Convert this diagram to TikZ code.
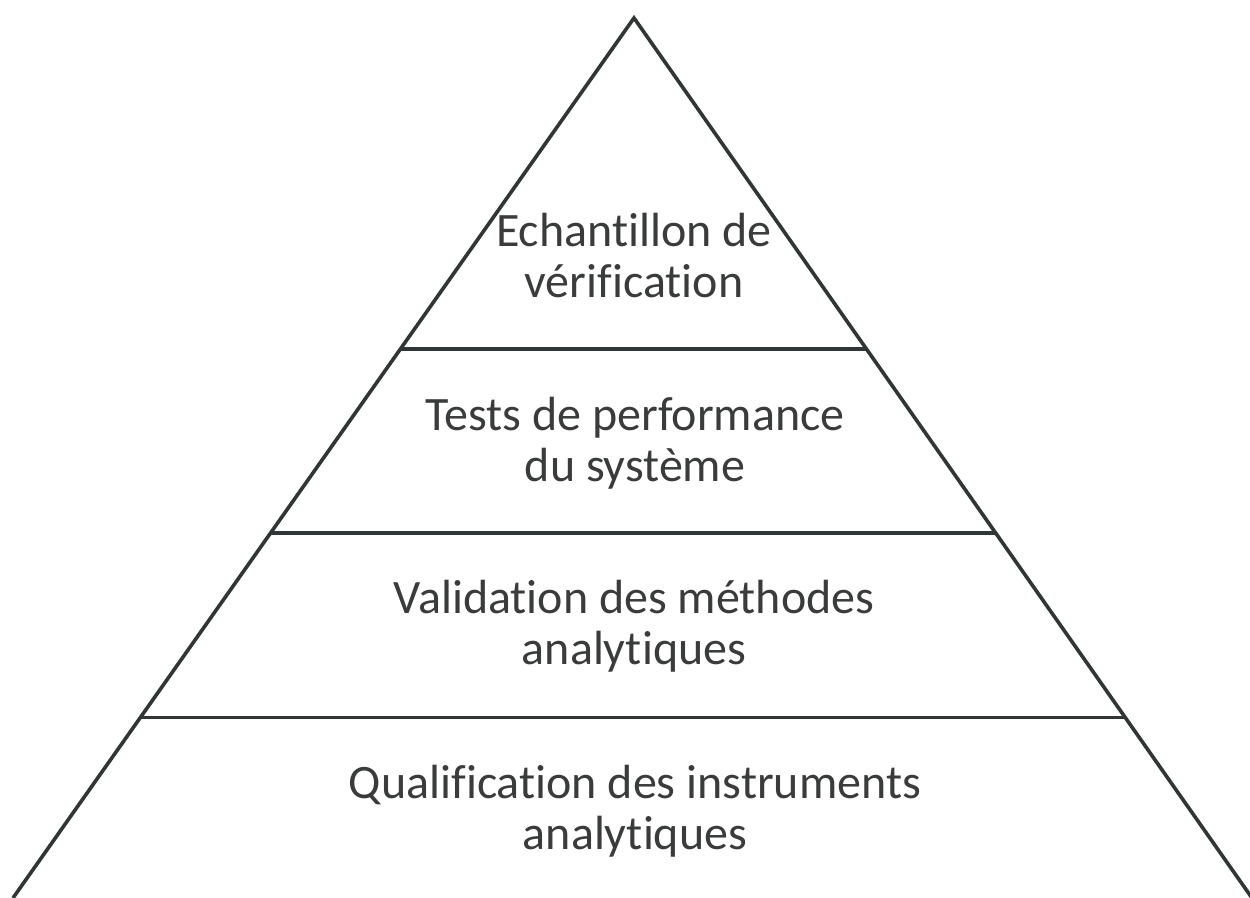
\documentclass[tikz,border=0pt]{standalone}
\usepackage{fontspec}
\setmainfont{Carlito}[Ligatures={NoCommon}]
\usetikzlibrary{calc}
\definecolor{lineGray}{HTML}{303636}
\definecolor{textGray}{HTML}{3A3C3C}

\begin{document}
\begin{tikzpicture}
          [ x=0.5pt, y=-0.5pt,
            edge/.style={
              draw=lineGray,
              line width=1.8pt,
              line join=miter},
            level/.style={
              text=textGray,
              align=center,
              anchor=base,
              inner sep=0pt,
              font=\fontsize{24}{25.5}\selectfont},
          ]
          \useasboundingbox (0,0) rectangle (1250,898);

          \coordinate (top) at (634,18);
          \coordinate (left) at (13,898);
          \coordinate (right) at (1252,898);

          \coordinate (l1) at ($(top)!0.376!(left)$);
          \coordinate (r1) at ($(top)!0.376!(right)$);
          \coordinate (l2) at ($(top)!0.585!(left)$);
          \coordinate (r2) at ($(top)!0.585!(right)$);
          \coordinate (l3) at ($(top)!0.795!(left)$);
          \coordinate (r3) at ($(top)!0.795!(right)$);

          \draw[edge] (left) -- (top) -- (right);
          \draw[edge] (l1) -- (r1);
          \draw[edge] (l2) -- (r2);
          \draw[edge] (l3) -- (r3);

          % anchor=base sits on the last line
          \node (sample) [level] at (634,298) {Echantillon de\\vérification};
          \node (perf) [level] at (635,482) {Tests de performance\\du système};
          \node (method) [level] at (634,665) {Validation des méthodes\\analytiques};
          \node (instr) [level] at (635,850) {Qualification des instruments\\analytiques};

        \end{tikzpicture}
\end{document}
